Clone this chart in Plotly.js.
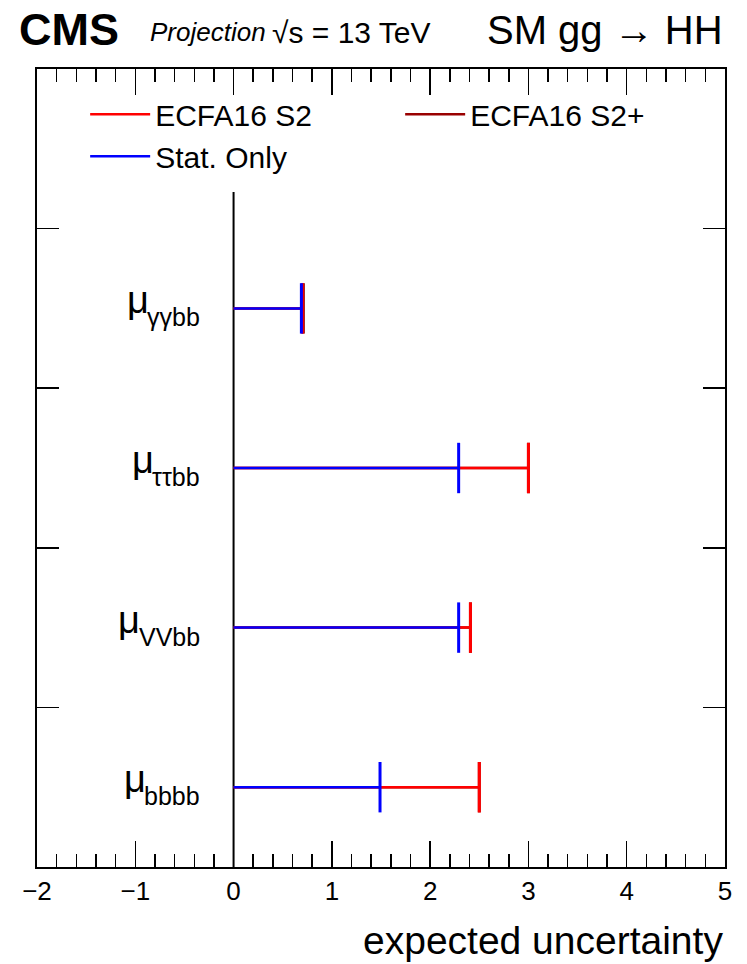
<!DOCTYPE html>
<html>
<head>
<meta charset="utf-8">
<script src="https://cdn.plot.ly/plotly-3.0.1.min.js"></script>
<style>html,body{margin:0;padding:0;background:#fff;} #plot{width:747px;height:964px;}</style>
</head>
<body>
<div id="plot"></div>
<script>
// Categories from bottom to top (y positions 0.5, 1.5, ...)
var channels = ["bbbb", "VVbb", "ττbb", "γγbb"];
var channelY = [0.5, 1.5, 2.5, 3.5];
var statOnly = [1.49, 2.29, 2.29, 0.69];
var ecfaS2 = [2.50, 2.41, 3.00, 0.70];
var ecfaS2plus = [2.50, 2.41, 3.00, 0.71];
var xTicks = [-2, -1, 0, 1, 2, 3, 4, 5];

var FONT = "Liberation Sans, Arial, Helvetica, sans-serif";

function segs(vals) {
  var x = [], y = [];
  for (var i = 0; i < vals.length; i++) {
    x.push(0, vals[i], null);
    y.push(channelY[i], channelY[i], null);
  }
  return {x: x, y: y};
}

var series = [
  {name: "ECFA16 S2+", vals: ecfaS2plus, color: "#990000", rank: 2},
  {name: "ECFA16 S2", vals: ecfaS2, color: "#ff0000", rank: 1},
  {name: "Stat. Only", vals: statOnly, color: "#0000ff", rank: 3}
];

var traces = [];
series.forEach(function (s) {
  var sg = segs(s.vals);
  traces.push({
    type: "scatter", mode: "lines", name: s.name, legendrank: s.rank,
    x: sg.x, y: sg.y, line: {color: s.color, width: 2.5}, hoverinfo: "skip"
  });
  traces.push({
    type: "scatter", mode: "markers", showlegend: false,
    x: s.vals, y: channelY,
    marker: {symbol: "line-ns", size: 36, line: {color: s.color, width: 3}}
  });
});

// measure text width for label placement
var cv = document.createElement("canvas").getContext("2d");
function textW(t, size) {
  cv.font = size + "px 'Liberation Sans'";
  return cv.measureText(t).width;
}

var MU_SIZE = 38, SUB_SIZE = 25;

var annotations = [
  {xref: "paper", yref: "paper", x: -0.029, y: 1.049, xanchor: "left", yanchor: "middle", showarrow: false,
   text: "<b>CMS</b>", font: {family: FONT, size: 45, color: "#000"}},
  {xref: "paper", yref: "paper", x: 0.161, y: 1.046, xanchor: "left", yanchor: "middle", showarrow: false,
   text: "<i>Projection</i>", font: {family: FONT, size: 26, color: "#000"}},
  {xref: "paper", yref: "paper", x: 0.338, y: 1.046, xanchor: "left", yanchor: "middle", showarrow: false,
   text: "√s = 13 TeV", font: {family: FONT, size: 30, color: "#000"}},
  {xref: "paper", yref: "paper", x: 1.0, y: 1.049, xanchor: "right", yanchor: "middle", showarrow: false,
   text: "SM gg → HH", font: {family: FONT, size: 40, color: "#000"}},
  {xref: "paper", yref: "paper", x: 1.0, y: -0.092, xanchor: "right", yanchor: "middle", showarrow: false,
   text: "expected uncertainty", font: {family: FONT, size: 39, color: "#000"}}
];
channels.forEach(function (c, i) {
  var sw = textW(c, SUB_SIZE);
  annotations.push({
    xref: "x", yref: "y", x: 0, y: channelY[i], xanchor: "right", yanchor: "middle", xshift: -32, yshift: -9,
    showarrow: false, text: c, font: {family: FONT, size: SUB_SIZE, color: "#000"}
  });
  annotations.push({
    xref: "x", yref: "y", x: 0, y: channelY[i], xanchor: "right", yanchor: "middle", xshift: -32 - sw + 2, yshift: 8,
    showarrow: false, text: "μ", font: {family: FONT, size: MU_SIZE, color: "#000"}
  });
});

var layout = {
  width: 747, height: 964,
  margin: {l: 37, r: 22, t: 69, b: 97},
  paper_bgcolor: "#fff", plot_bgcolor: "#fff",
  font: {family: FONT, color: "#000"},
  showlegend: true,
  legend: {
    orientation: "h", x: 0.07, y: 0.976, xanchor: "left", yanchor: "top",
    entrywidth: 240, entrywidthmode: "pixels", itemwidth: 60,
    font: {family: FONT, size: 30, color: "#000"}, bgcolor: "rgba(0,0,0,0)",
    traceorder: "normal"
  },
  xaxis: {
    range: [-2, 5], tickvals: xTicks, ticktext: xTicks.map(function (v) { return v < 0 ? "−" + Math.abs(v) : String(v); }),
    ticks: "inside", ticklen: 26, tickwidth: 1.5, tickcolor: "#000",
    minor: {dtick: 0.2, ticks: "inside", ticklen: 13, tickwidth: 1.5, tickcolor: "#000", showgrid: false},
    showline: true, linecolor: "#000", linewidth: 2, mirror: "ticks",
    showgrid: false, zeroline: false,
    tickfont: {family: FONT, size: 26, color: "#000"}
  },
  yaxis: {
    range: [0, 5], tickvals: [1, 2, 3, 4], showticklabels: false,
    ticks: "inside", ticklen: 22, tickwidth: 1.5, tickcolor: "#000",
    showline: true, linecolor: "#000", linewidth: 2, mirror: "ticks",
    showgrid: false, zeroline: false
  },
  shapes: [
    {type: "line", xref: "x", yref: "y", x0: 0, x1: 0, y0: 0, y1: 4.23, layer: "below",
     line: {color: "#000", width: 2}}
  ],
  annotations: annotations
};

Plotly.newPlot("plot", traces, layout, {displayModeBar: false, staticPlot: true});
</script>
</body>
</html>
